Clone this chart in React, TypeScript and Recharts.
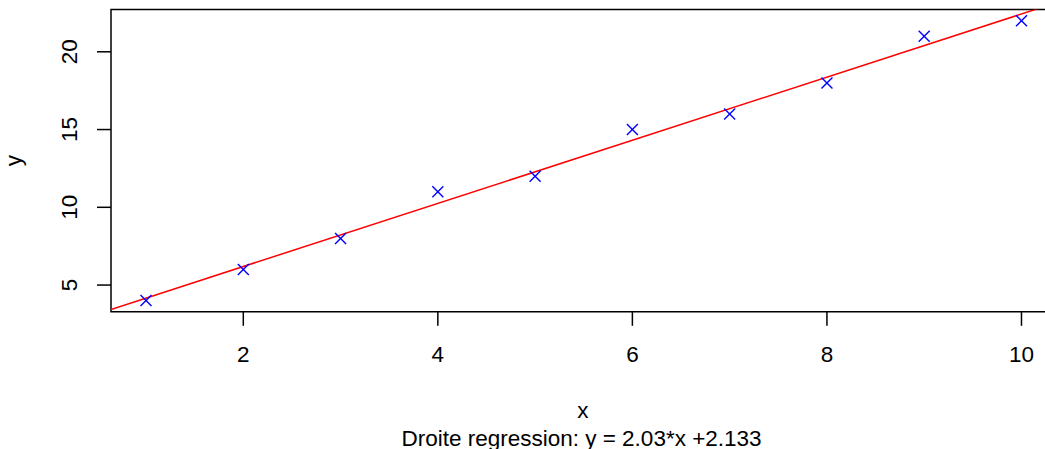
import React from "react";
import {
  ComposedChart,
  Scatter,
  XAxis,
  YAxis,
  ReferenceLine,
  ReferenceArea,
  Customized,
} from "recharts";

// Observations
const X_VALUES = [1, 2, 3, 4, 5, 6, 7, 8, 9, 10];
const Y_VALUES = [4, 6, 8, 11, 12, 15, 16, 18, 21, 22];

// Fitted regression line coefficients
const SLOPE = 2.03;
const INTERCEPT = 2.133;

// Axis ticks
const X_TICKS = [2, 4, 6, 8, 10];
const Y_TICKS = [5, 10, 15, 20];

// Axis ranges (data range padded by 4% on each side)
const X_DOMAIN: [number, number] = [0.64, 10.36];
const Y_DOMAIN: [number, number] = [3.28, 22.72];

const FONT = "'Liberation Sans', Arial, Helvetica, sans-serif";
const FONT_SIZE = 22.5;

const points = X_VALUES.map((x, i) => ({ x, y: Y_VALUES[i] }));

const CrossShape = (props: any) => {
  const { cx, cy } = props;
  const r = 5.5;
  return (
    <g stroke="#0000FF" strokeWidth={1.4}>
      <line x1={cx - r} y1={cy - r} x2={cx + r} y2={cy + r} />
      <line x1={cx - r} y1={cy + r} x2={cx + r} y2={cy - r} />
    </g>
  );
};

const XTick = (props: any) => {
  const { x, y, payload } = props;
  return (
    <text
      x={x}
      y={y + 34.3}
      textAnchor="middle"
      fontFamily={FONT}
      fontSize={FONT_SIZE}
      fill="#000"
    >
      {payload.value}
    </text>
  );
};

const YTick = (props: any) => {
  const { x, y, payload } = props;
  const bx = x - 18.3;
  return (
    <text
      x={bx}
      y={y}
      transform={`rotate(-90, ${bx}, ${y})`}
      textAnchor="middle"
      fontFamily={FONT}
      fontSize={FONT_SIZE}
      fill="#000"
    >
      {payload.value}
    </text>
  );
};

const AxisTitles = () => (
  <g fontFamily={FONT} fontSize={FONT_SIZE} fill="#000">
    <text x={582.8} y={418} textAnchor="middle">
      x
    </text>
    <text x={581.5} y={445.5} textAnchor="middle">
      {`Droite regression: y = ${SLOPE}*x +${INTERCEPT}`}
    </text>
    <text x={21.4} y={160.6} transform="rotate(-90, 21.4, 160.6)" textAnchor="middle">
      y
    </text>
  </g>
);

export default function App() {
  const lineStart = { x: X_DOMAIN[0], y: INTERCEPT + SLOPE * X_DOMAIN[0] };
  const lineEnd = { x: X_DOMAIN[1], y: INTERCEPT + SLOPE * X_DOMAIN[1] };
  return (
    <div
      style={{
        position: "absolute",
        left: 0,
        top: 0,
        width: 1045,
        height: 449,
        overflow: "hidden",
        background: "#fff",
      }}
    >
      <ComposedChart
        width={1070}
        height={449}
        margin={{ top: 9.5, right: 13.5, bottom: 107.2, left: 0 }}
      >
        <XAxis
          dataKey="x"
          type="number"
          domain={X_DOMAIN}
          allowDataOverflow
          ticks={X_TICKS}
          height={30}
          tickSize={14}
          tickLine={{ stroke: "#000", strokeWidth: 1.5 }}
          axisLine={false}
          tick={<XTick />}
        />
        <YAxis
          dataKey="y"
          type="number"
          domain={Y_DOMAIN}
          allowDataOverflow
          ticks={Y_TICKS}
          width={111}
          tickSize={14}
          tickLine={{ stroke: "#000", strokeWidth: 1.5 }}
          axisLine={false}
          tick={<YTick />}
        />
        <ReferenceArea
          x1={X_DOMAIN[0]}
          x2={X_DOMAIN[1]}
          y1={Y_DOMAIN[0]}
          y2={Y_DOMAIN[1]}
          fill="none"
          stroke="#000"
          strokeWidth={1.5}
          ifOverflow="visible"
        />
        <ReferenceLine
          segment={[lineStart, lineEnd]}
          stroke="#FF0000"
          strokeWidth={1.5}
          ifOverflow="hidden"
        />
        <Scatter
          data={points}
          dataKey="y"
          shape={<CrossShape />}
          isAnimationActive={false}
        />
        <Customized component={AxisTitles} />
      </ComposedChart>
    </div>
  );
}
